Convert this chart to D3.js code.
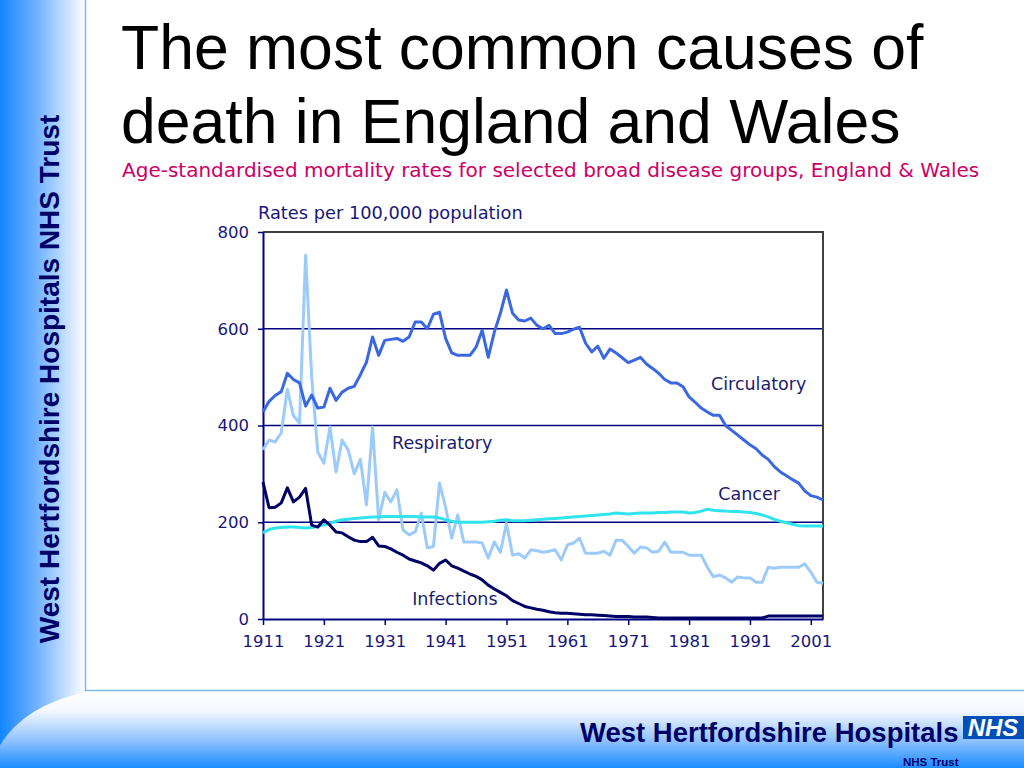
<!DOCTYPE html>
<html>
<head>
<meta charset="utf-8">
<script src="https://cdn.jsdelivr.net/npm/d3@7"></script>
<style>
  body { margin: 0; background: #fff; }
  svg { display: block; }
</style>
</head>
<body>
<svg id="slide" width="1024" height="768"></svg>
<script>
const years = d3.range(1911, 2004);

const circulatory = [
  428, 450, 462, 470, 508, 495, 488, 440, 463, 436,
  438, 477, 452, 469, 477, 481, 505, 531, 583, 545,
  576, 578, 580, 574, 583, 614, 614, 600, 630, 634,
  580, 550, 545, 545, 545, 562, 597, 541, 593, 632,
  680, 632, 618, 616, 622, 607, 600, 607, 590, 590,
  593, 599, 603, 570, 552, 564, 539, 558, 550, 540,
  530, 535, 541, 527, 518, 508, 495, 488, 488, 480,
  459, 448, 436, 428, 421, 421, 400, 390, 380, 370,
  360, 352, 339, 330, 315, 304, 296, 288, 281, 265,
  255, 252, 246
];

const respiratory = [
  350, 370, 366, 385, 475, 420, 405, 752, 500, 345,
  322, 397, 304, 370, 349, 300, 330, 236, 397, 205,
  262, 242, 267, 184, 174, 180, 219, 147, 150, 281,
  231, 167, 215, 159, 159, 159, 157, 126, 159, 138,
  198, 132, 135, 126, 143, 141, 138, 140, 143, 122,
  153, 157, 167, 136, 136, 136, 140, 132, 163, 163,
  150, 136, 149, 147, 138, 140, 159, 138, 138, 138,
  132, 132, 132, 107, 87, 91, 85, 76, 87, 85,
  85, 76, 76, 107, 105, 107, 107, 107, 107, 114,
  97, 76, 74
];

const cancer = [
  178, 185, 188, 189, 190, 190, 189, 188, 189, 191,
  195, 198, 202, 205, 206, 208, 209, 210, 211, 211,
  212, 212, 212, 212, 212, 212, 211, 211, 211, 209,
  205, 202, 200, 200, 200, 200, 200, 201, 202, 204,
  205, 203, 203, 203, 204, 205, 206, 207, 208, 209,
  210, 211, 212, 213, 214, 215, 216, 217, 219, 218,
  217, 218, 219, 219, 219, 220, 220, 221, 221, 221,
  219, 220, 223, 227, 225, 224, 223, 222, 222, 221,
  220, 218, 215, 211, 206, 202, 199, 196, 193, 192,
  192, 192, 192
];

const infections = [
  283, 230, 231, 240, 271, 242, 252, 270, 194, 190,
  205, 194, 180, 178, 170, 163, 160, 160, 169, 151,
  150, 145, 138, 132, 124, 120, 116, 110, 101, 115,
  122, 110, 105, 99, 93, 88, 81, 70, 62, 55,
  48, 38, 32, 26, 23, 20, 18, 15, 13, 12,
  12, 11, 10, 9, 9, 8, 7, 6, 5, 5,
  5, 4, 4, 4, 3, 2, 2, 2, 2, 2,
  2, 2, 2, 2, 2, 2, 2, 2, 2, 2,
  2, 2, 2, 6, 6, 6, 6, 6, 6, 6,
  6, 6, 6
];

const seriesNames = ["Respiratory", "Cancer", "Circulatory", "Infections"];
const seriesColors = ["#9ccbfa", "#30e4ee", "#3a68e2", "#000066"];
const yTicks = [0, 200, 400, 600, 800];
const xTicks = d3.range(1911, 2002, 10);
// where each name sits, in chart units [year, rate]
const labelAnchors = [[1932.2, 351], [1985.8, 246], [1984.6, 473], [1935.5, 29]];

const svg = d3.select("#slide");
const defs = svg.append("defs");

const side = defs.append("linearGradient").attr("id", "side").attr("x1", 0).attr("x2", 1).attr("y1", 0).attr("y2", 0);
side.append("stop").attr("offset", "0%").attr("stop-color", "#1286ff");
side.append("stop").attr("offset", "40%").attr("stop-color", "#6aaeff");
side.append("stop").attr("offset", "100%").attr("stop-color", "#ffffff");

const foot = defs.append("linearGradient").attr("id", "foot").attr("x1", 0).attr("x2", 0).attr("y1", 0).attr("y2", 1);
foot.append("stop").attr("offset", "0%").attr("stop-color", "#ffffff");
foot.append("stop").attr("offset", "25%").attr("stop-color", "#f4f8ff");
foot.append("stop").attr("offset", "65%").attr("stop-color", "#8cc0ff");
foot.append("stop").attr("offset", "100%").attr("stop-color", "#1a8cff");

svg.append("rect").attr("width", 1024).attr("height", 768).attr("fill", "#fff");
svg.append("rect").attr("x", 0).attr("y", 0).attr("width", 86).attr("height", 768).attr("fill", "url(#side)");
svg.append("path")
  .attr("d", "M0,768 L0,745 Q25,705 86,692 L1024,692 L1024,768 Z")
  .attr("fill", "url(#foot)");

// panel edge
svg.append("path")
  .attr("d", "M85.5,0 L85.5,690.5 L1024,690.5")
  .attr("fill", "none")
  .attr("stroke", "#7db8ee")
  .attr("stroke-width", 1.5);

svg.append("text")
  .attr("transform", "translate(59,379) rotate(-90)")
  .attr("text-anchor", "middle")
  .style("font-family", "'Liberation Sans', Arial, sans-serif")
  .style("font-weight", "bold")
  .style("font-size", "28px")
  .attr("fill", "#000066")
  .text("West Hertfordshire Hospitals NHS Trust");

const title = svg.append("text")
  .style("font-family", "'Liberation Sans', Arial, sans-serif")
  .style("font-size", "62.5px")
  .attr("fill", "#000");
title.append("tspan").attr("x", 121).attr("y", 69).text("The most common causes of");
title.append("tspan").attr("x", 121).attr("y", 143).text("death in England and Wales");

svg.append("text")
  .attr("x", 122)
  .attr("y", 177)
  .style("font-family", "'DejaVu Sans', Verdana, sans-serif")
  .style("font-size", "20px")
  .attr("fill", "#cc0066")
  .text("Age-standardised mortality rates for selected broad disease groups, England & Wales");

// chart
const x = d3.scaleLinear().domain([1911, 2003]).range([263, 823]);
const y = d3.scaleLinear().domain([0, 800]).range([619, 232]);
const chartFont = "'DejaVu Sans', Verdana, sans-serif";
const ink = "#17177a";

svg.append("g")
  .selectAll("line")
  .data(yTicks.filter(d => d > 0 && d < 800))
  .join("line")
    .attr("x1", x(1911))
    .attr("x2", x(2003))
    .attr("y1", d => y(d))
    .attr("y2", d => y(d))
    .attr("stroke", "#000080")
    .attr("stroke-width", 1.3);

svg.append("path")
  .attr("d", `M${x(1911)},${y(800)} L${x(2003)},${y(800)} L${x(2003)},${y(0)}`)
  .attr("fill", "none")
  .attr("stroke", "#404040")
  .attr("stroke-width", 2);

const yAxis = svg.append("g")
  .attr("transform", "translate(" + x(1911) + ",0)")
  .call(d3.axisLeft(y).tickValues(yTicks).tickSize(5).tickPadding(9).tickSizeOuter(0));

const xAxis = svg.append("g")
  .attr("transform", "translate(0," + y(0) + ")")
  .call(d3.axisBottom(x).tickValues(xTicks).tickFormat(d3.format("d")).tickSize(6).tickPadding(10).tickSizeOuter(0));

[yAxis, xAxis].forEach(g => {
  g.select(".domain").attr("stroke", "#000080").attr("stroke-width", 2);
  g.selectAll(".tick line").attr("stroke", "#000080").attr("stroke-width", 1.5);
  g.selectAll(".tick text")
    .attr("fill", ink)
    .style("font-family", chartFont)
    .style("font-size", "16.5px");
});

svg.append("text")
  .attr("x", 258)
  .attr("y", 219)
  .style("font-family", chartFont)
  .style("font-size", "17.8px")
  .attr("fill", ink)
  .text("Rates per 100,000 population");

const seriesValues = [respiratory, cancer, circulatory, infections];
const line = d3.line()
  .x((d, i) => x(years[i]))
  .y(d => y(d));

svg.append("g")
  .selectAll("path")
  .data(seriesValues)
  .join("path")
    .attr("d", line)
    .attr("fill", "none")
    .attr("stroke", (d, i) => seriesColors[i])
    .attr("stroke-width", 3)
    .attr("stroke-linejoin", "round");

svg.append("g")
  .selectAll("text")
  .data(seriesNames)
  .join("text")
    .attr("x", (d, i) => x(labelAnchors[i][0]))
    .attr("y", (d, i) => y(labelAnchors[i][1]))
    .style("font-family", chartFont)
    .style("font-size", "17.5px")
    .attr("fill", "#1c1c6e")
    .text(d => d);

// footer logo
svg.append("text")
  .attr("x", 580)
  .attr("y", 742)
  .style("font-family", "'Liberation Sans', Arial, sans-serif")
  .style("font-weight", "bold")
  .style("font-size", "27.5px")
  .attr("fill", "#000066")
  .text("West Hertfordshire Hospitals");

svg.append("rect")
  .attr("x", 963).attr("y", 716)
  .attr("width", 61).attr("height", 23)
  .attr("fill", "#0050b8");
svg.append("text")
  .attr("x", 993)
  .attr("y", 736)
  .attr("text-anchor", "middle")
  .style("font-family", "'Liberation Sans', Arial, sans-serif")
  .style("font-weight", "bold")
  .style("font-style", "italic")
  .style("font-size", "24px")
  .attr("fill", "#fff")
  .text("NHS");

svg.append("text")
  .attr("x", 903)
  .attr("y", 766)
  .style("font-family", "'Liberation Sans', Arial, sans-serif")
  .style("font-weight", "bold")
  .style("font-size", "11.5px")
  .attr("fill", "#000066")
  .text("NHS Trust");
</script>
</body>
</html>
